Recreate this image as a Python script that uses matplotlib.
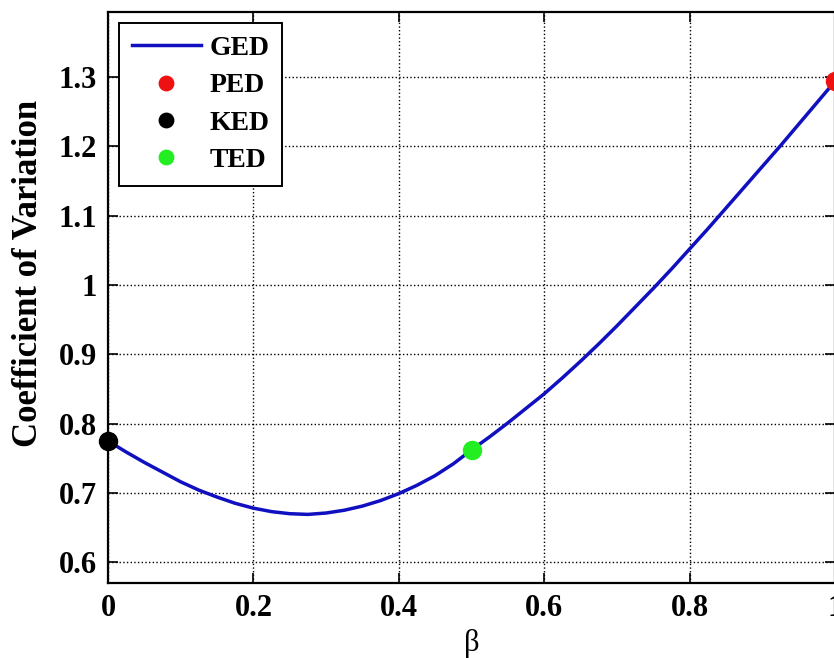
import numpy as np
import matplotlib.pyplot as plt

# valores (passo 0.025)
beta = [0.000, 0.025, 0.050, 0.075, 0.100, 0.125, 0.150, 0.175, 0.200, 0.225,
        0.250, 0.275, 0.300, 0.325, 0.350, 0.375, 0.400, 0.425, 0.450, 0.475,
        0.500, 0.525, 0.550, 0.575, 0.600, 0.625, 0.650, 0.675, 0.700, 0.725,
        0.750, 0.775, 0.800, 0.825, 0.850, 0.875, 0.900, 0.925, 0.950, 0.975,
        1.000]
cv_ged = [0.775, 0.759, 0.744, 0.730, 0.716, 0.704, 0.694, 0.685, 0.678, 0.673,
          0.670, 0.669, 0.671, 0.675, 0.681, 0.689, 0.699, 0.711, 0.725, 0.742,
          0.762, 0.781, 0.801, 0.822, 0.843, 0.866, 0.890, 0.915, 0.941, 0.968,
          0.995, 1.023, 1.052, 1.081, 1.111, 1.141, 1.171, 1.201, 1.232, 1.263,
          1.294]
ped = (1.0, 1.294)
ked = (0.0, 0.775)
ted = (0.5, 0.762)

xticks = [0, 0.2, 0.4, 0.6, 0.8, 1]
xtick_labels = ['0', '0.2', '0.4', '0.6', '0.8', '1']
yticks = [0.6, 0.7, 0.8, 0.9, 1.0, 1.1, 1.2, 1.3]
ytick_labels = ['0.6', '0.7', '0.8', '0.9', '1', '1.1', '1.2', '1.3']

plt.rcParams['font.family'] = 'Liberation Serif'

fig = plt.figure(figsize=(8.34, 6.58), dpi=100)
ax = fig.add_axes([108 / 834, 75 / 658, 727 / 834, 571 / 658])

ax.plot(beta, cv_ged, color='#1010c0', lw=2.5, label='GED', zorder=3)
ax.plot(*ped, 'o', color='#ee1111', ms=13, label='PED', zorder=4, clip_on=False)
ax.plot(*ked, 'o', color='black', ms=13, label='KED', zorder=4, clip_on=False)
ax.plot(*ted, 'o', color='#22ee22', ms=13, label='TED', zorder=4, clip_on=False)

ax.set_xlim(0, 1)
ax.set_ylim(0.57, 1.394)
ax.set_xticks(xticks)
ax.set_xticklabels(xtick_labels, fontweight='bold', fontsize=22)
ax.set_yticks(yticks)
ax.set_yticklabels(ytick_labels, fontweight='bold', fontsize=22)
ax.tick_params(direction='in', length=7, width=1.2, top=True, right=True, pad=8)

ax.grid(True, color='black', linestyle=':', lw=1)
for s in ax.spines.values():
    s.set_linewidth(1.6)

ax.set_xlabel('β', fontsize=22, labelpad=4)
ax.set_ylabel('Coefficient of Variation', fontsize=25, fontweight='bold')
ax.yaxis.set_label_coords(-0.087, 0.543)

leg = ax.legend(loc='upper left', prop={'weight': 'bold', 'size': 20},
                markerscale=0.8, handlelength=2.5, handletextpad=0.3,
                fancybox=False, edgecolor='black', framealpha=1,
                borderaxespad=0.4, labelspacing=0.43, borderpad=0.45)
leg.get_frame().set_linewidth(1.4)

plt.savefig('out.png', dpi=100)
